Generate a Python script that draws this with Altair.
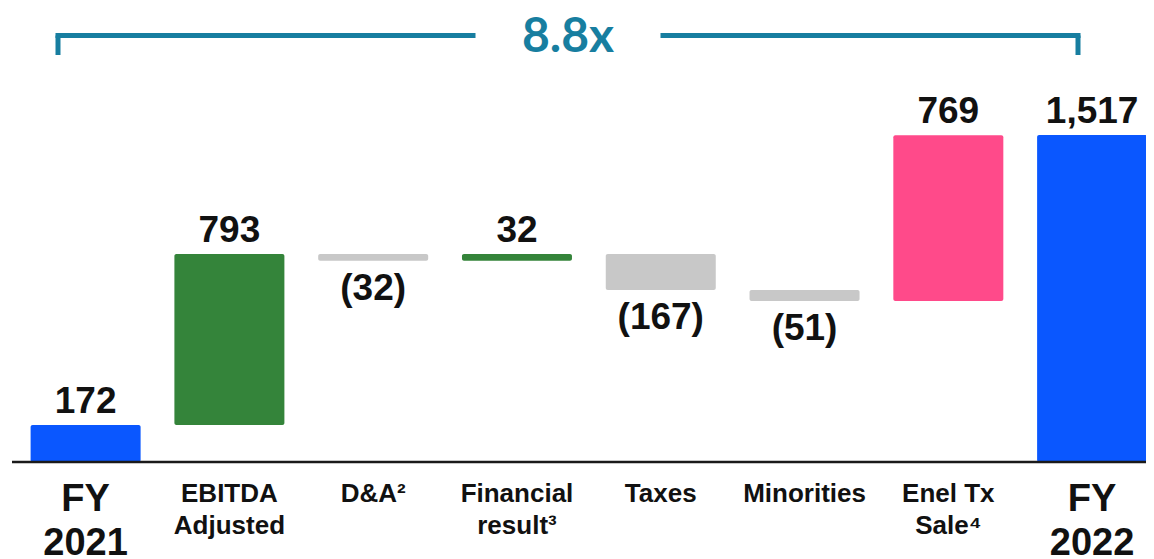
import altair as alt
import pandas as pd

# ---- data ----
categories = ["FY 2021", "EBITDA Adjusted", "D&A", "Financial result", "Taxes",
              "Minorities", "Enel Tx Sale", "FY 2022"]
line1 = ["FY", "EBITDA", "D&A²", "Financial", "Taxes", "Minorities", "Enel Tx", "FY"]
line2 = ["2021", "Adjusted", "", "result³", "", "", "Sale⁴", "2022"]
values = [172, 793, -32, 32, -167, -51, 769, 1517]
kinds = ["total", "delta", "delta", "delta", "delta", "delta", "delta", "total"]
value_labels = ["172", "793", "(32)", "32", "(167)", "(51)", "769", "1,517"]
bar_colors = ["#0A57FF", "#34843A", "#C8C8C8", "#34843A", "#C8C8C8", "#C8C8C8",
              "#FF4A8A", "#0A57FF"]
multiple_label = "8.8x"

# ---- build waterfall table ----
rows = []
running = 0
for i, (c, v, k) in enumerate(zip(categories, values, kinds)):
    if k == "total":
        start, end = 0, v
        running = v
    else:
        start, end = running, running + v
        running = end
    rows.append({
        "idx": i, "cat": c, "start": start, "end": end,
        "top": max(start, end), "bottom": min(start, end),
        "sign": "neg" if v < 0 else "pos",
        "label": value_labels[i], "color": bar_colors[i],
        "lines": [line1[i]] + ([line2[i]] if line2[i] else []),
        "big": k == "total",
    })
df = pd.DataFrame(rows)

W, H = 1138, 551
xs = alt.Scale(domain=[-0.505, 7.34], nice=False, zero=False)
ys = alt.Scale(domain=[-450, 2106], nice=False, zero=False)
X = alt.X("idx:Q", scale=xs, axis=None)

base = alt.Chart(df)

bars = base.mark_bar(width=110, cornerRadius=2).encode(
    x=X,
    y=alt.Y("start:Q", scale=ys, axis=None),
    y2="end:Q",
    color=alt.Color("color:N", scale=None),
)

font = "Liberation Sans"
pos_labels = base.transform_filter(alt.datum.sign == "pos").mark_text(
    font=font, fontWeight="bold", fontSize=37, dy=-12, baseline="alphabetic",
    color="#111111",
).encode(x=X, y=alt.Y("top:Q", scale=ys, axis=None), text="label:N")

neg_labels = base.transform_filter(alt.datum.sign == "neg").mark_text(
    font=font, fontWeight="bold", fontSize=37, dy=39, baseline="alphabetic",
    color="#111111",
).encode(x=X, y=alt.Y("bottom:Q", scale=ys, axis=None), text="label:N")

cat_small = base.transform_filter(alt.datum.big == False).mark_text(
    font=font, fontWeight="bold", fontSize=26, lineHeight=32,
    baseline="alphabetic", color="#111111",
).encode(x=X, y=alt.value(494), text="lines")

cat_big = base.transform_filter(alt.datum.big == True).mark_text(
    font=font, fontWeight="bold", fontSize=38, lineHeight=44,
    baseline="alphabetic", color="#111111",
).encode(x=X, y=alt.value(503), text="lines")

axis_line = base.mark_rule(color="#1a1a1a", strokeWidth=2.5).encode(
    y=alt.datum(0, scale=ys), x=alt.value(4), x2=alt.value(W)
).transform_filter(alt.datum.idx == 0)

teal = "#177EA0"
bracket_df = pd.DataFrame({"seg": [0]})
bb = alt.Chart(bracket_df)
h_left = bb.mark_rule(color=teal, strokeWidth=5, strokeCap="square").encode(
    x=alt.value(50), x2=alt.value(465), y=alt.value(27.5))
h_right = bb.mark_rule(color=teal, strokeWidth=5, strokeCap="square").encode(
    x=alt.value(655), x2=alt.value(1070), y=alt.value(27.5))
v_left = bb.mark_rule(color=teal, strokeWidth=5).encode(
    x=alt.value(50), y=alt.value(27.5), y2=alt.value(47))
v_right = bb.mark_rule(color=teal, strokeWidth=5).encode(
    x=alt.value(1070), y=alt.value(27.5), y2=alt.value(47))
mult = bb.mark_text(font="Lato", fontWeight="bold", fontSize=48, color=teal,
                    baseline="alphabetic", align="center").encode(
    x=alt.value(560), y=alt.value(43.5), text=alt.value(multiple_label))

chart = alt.layer(
    bars, pos_labels, neg_labels, cat_small, cat_big, axis_line,
    h_left, h_right, v_left, v_right, mult,
).properties(
    width=W, height=H, padding=0,
    autosize=alt.AutoSizeParams(type="none"),
).configure_view(stroke=None)

chart.save("out.html", embed_options={"renderer": "svg", "actions": False})
